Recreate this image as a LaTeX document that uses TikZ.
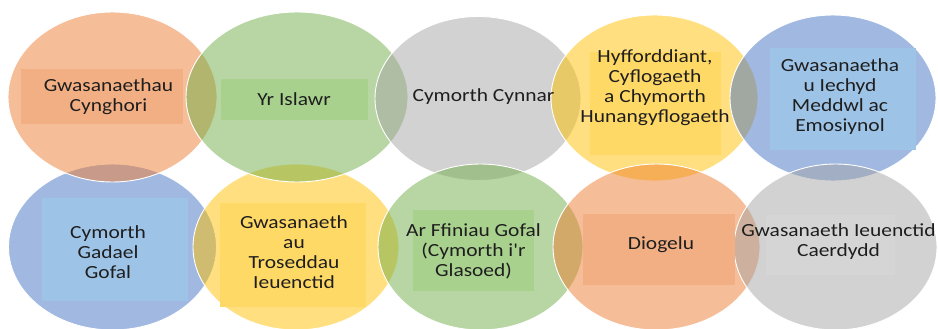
\documentclass[tikz,border=0pt]{standalone}
\usepackage{fontspec}
\setmainfont{Carlito}[FakeStretch=1.16, Ligatures=TeXOff]
\usetikzlibrary{shapes.geometric}
\definecolor{cOrange}{HTML}{ED7D31}
\definecolor{cGreen}{HTML}{70AD47}
\definecolor{cGray}{HTML}{A5A5A5}
\definecolor{cYellow}{HTML}{FFC000}
\definecolor{cBlue}{HTML}{4472C4}
\definecolor{rOrange}{HTML}{F3AF84}
\definecolor{rGreen}{HTML}{A9D18E}
\definecolor{rYellow}{HTML}{FFD966}
\definecolor{rBlue}{HTML}{9DC3E6}
\definecolor{rGray}{HTML}{D5D5D5}
\definecolor{txt}{HTML}{1E1E1E}
\tikzset{
  blob/.style={ellipse, draw=white, line width=0.9pt, fill opacity=0.5, draw opacity=1,
    inner sep=0pt, minimum width=208pt, minimum height=170pt},
  blobb/.style={blob, minimum height=166pt},
  box/.style={rectangle, draw=none, inner sep=0pt},
  lbl/.style={font=\fontsize{18.5}{20}\selectfont, text=txt, align=center, inner sep=0pt}
}
\begin{document}
\begin{tikzpicture}[x=1pt,y=-1pt]
\useasboundingbox (0,0) rectangle (938,329);
% bottom row, first two
\node[blobb, fill=cBlue] (eB1) at (112.5,247) {};
\node[blobb, fill=cYellow, minimum width=206pt] (eB2) at (296,247) {};
% top row
\node[blob, fill=cOrange, minimum width=209pt] (eT1) at (112.5,97) {};
\node[blob, fill=cGreen, minimum width=222pt] (eT2) at (297,97) {};
\node[blob, fill=cGray, minimum width=206pt, minimum height=164pt] (eT3) at (478,98.5) {};
\node[blob, fill=cYellow, minimum width=207pt, minimum height=166pt] (eT4) at (654.5,98) {};
\node[blob, fill=cBlue, minimum width=206pt, minimum height=166pt] (eT5) at (833,98) {};
% bottom row, last three
\node[blobb, fill=cGreen, minimum width=205pt] (eB3) at (480.5,247) {};
\node[blobb, fill=cOrange, minimum width=207pt] (eB4) at (656.5,247) {};
\node[blobb, fill=cGray, minimum width=203pt] (eB5) at (835.5,247) {};
% rectangles
\node[box, fill=rOrange, minimum width=162pt, minimum height=55pt] (rT1) at (102,96.5) {};
\node[box, fill=rGreen, minimum width=147pt, minimum height=41pt] (rT2) at (294.5,99.5) {};
\node[box, fill=rYellow, minimum width=131pt, minimum height=103pt] (rT4) at (655.5,103.5) {};
\node[box, fill=rBlue, minimum width=146pt, minimum height=102pt] (rT5) at (843,99) {};
\node[box, fill=rBlue, minimum width=146pt, minimum height=103pt] (rB1) at (115,249.5) {};
\node[box, fill=rYellow, minimum width=146pt, minimum height=104pt] (rB2) at (293,255) {};
\node[box, fill=rGreen, minimum width=121pt, minimum height=81pt] (rB3) at (473.5,250.5) {};
\node[box, fill=rOrange, minimum width=152pt, minimum height=71pt] (rB4) at (659,249.5) {};
\node[box, fill=rGray, minimum width=129pt, minimum height=60pt] (rB5) at (830.5,245) {};
% labels
\node[lbl] (tT1) at (108.5,97) {Gwasanaethau\\Cynghori};
\node[lbl] (tT2) at (294,99) {Yr Islawr};
\node[lbl] (tT3) at (483.5,97) {Cymorth Cynnar};
\node[lbl] (tT4) at (655,88) {Hyfforddiant,\\Cyflogaeth\\a Chymorth\\Hunangyflogaeth};
\node[lbl] (tT5) at (840,97) {Gwasanaetha\\u Iechyd\\Meddwl ac\\Emosiynol};
\node[lbl] (tB1) at (108,252) {Cymorth\\Gadael\\Gofal};
\node[lbl] (tB2) at (294,252) {Gwasanaeth\\au\\Troseddau\\Ieuenctid};
\node[lbl] (tB3) at (473.5,251) {Ar Ffiniau Gofal\\(Cymorth i'r\\Glasoed)};
\node[lbl] (tB4) at (661,245) {Diogelu};
\node[lbl] (tB5) at (838.5,242) {Gwasanaeth Ieuenctid\\Caerdydd};
\end{tikzpicture}
\end{document}
